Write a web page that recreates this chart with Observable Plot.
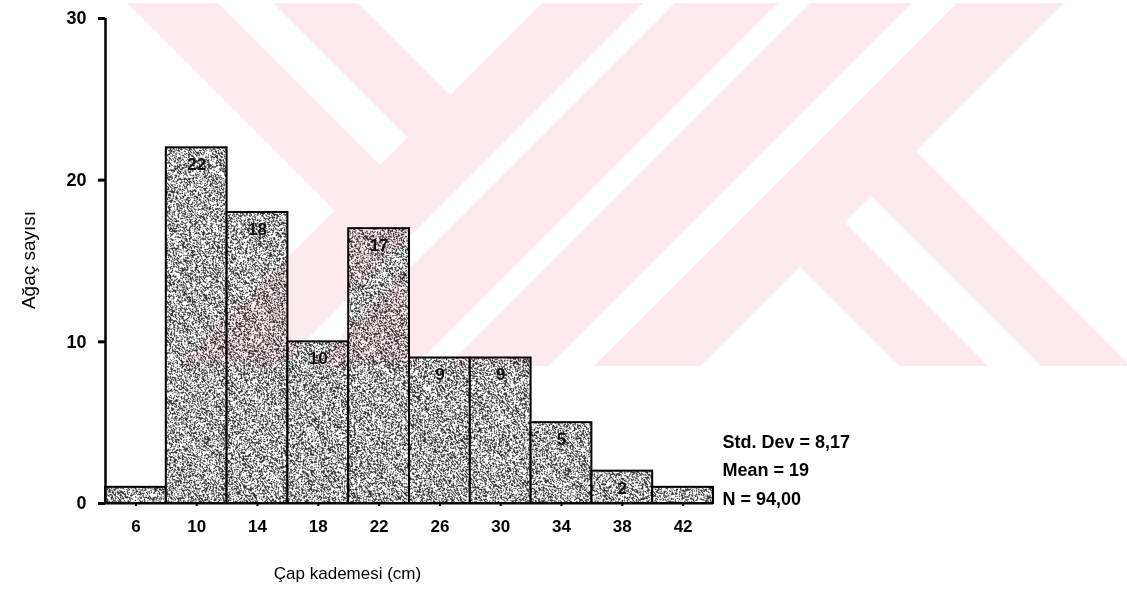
<!DOCTYPE html>
<html lang="tr">
<head>
<meta charset="utf-8">
<title>Çap kademesi dağılımı</title>
<script src="https://cdn.jsdelivr.net/npm/d3@7"></script>
<script src="https://cdn.jsdelivr.net/npm/@observablehq/plot@0.6"></script>
<style>
  html, body { margin: 0; padding: 0; background: #fff; }
  #chart { position: relative; width: 1127px; height: 598px; overflow: hidden; }
  #chart svg.plot { display: block; }
  #stamp { position: absolute; left: 0; top: 0; mix-blend-mode: multiply; pointer-events: none; }
</style>
</head>
<body>
<div id="chart"></div>
<script>
// Diameter classes (cm, class midpoints) and tree counts per class
const classMid = [6, 10, 14, 18, 22, 26, 30, 34, 38, 42];
const treeCount = [1, 22, 18, 10, 17, 9, 9, 5, 2, 1];
const classWidth = 4;
const countTicks = [0, 10, 20, 30];
const statLines = ["Std. Dev = 8,17", "Mean = 19", "N = 94,00"];
const xTitle = "Çap kademesi (cm)";
const yTitle = "Ağaç sayısı";

const bins = classMid.map((m, i) => ({
  x1: m - classWidth / 2,
  x2: m + classWidth / 2,
  mid: m,
  n: treeCount[i]
}));

const font = "'Liberation Sans', Arial, Helvetica, sans-serif";
const xMin = classMid[0] - classWidth / 2;
const xMax = classMid[classMid.length - 1] + classWidth / 2;

const chart = Plot.plot({
  width: 1127,
  height: 598,
  marginLeft: 105,
  marginRight: 414,
  marginTop: 18,
  marginBottom: 95,
  x: {domain: [xMin, xMax]},
  y: {domain: [countTicks[0], countTicks[countTicks.length - 1]]},
  style: {fontFamily: font, background: "transparent", color: "#000", overflow: "visible"},
  marks: [
    // histogram bars with a stippled fill
    Plot.rectY(bins, {x1: "x1", x2: "x2", y: "n", fill: "url(#speckle)", stroke: "#000", strokeWidth: 2}),
    // count labels inside the bars
    Plot.text(bins.filter(d => d.n > 1), {
      x: "mid", y: "n", text: d => String(d.n), dy: 17,
      fontSize: 17, fontWeight: "bold", fill: "#111"
    }),
    // axis lines
    Plot.ruleX([xMin], {y1: countTicks[0], y2: countTicks[countTicks.length - 1], strokeWidth: 2.5}),
    Plot.ruleY([countTicks[0]], {strokeWidth: 2}),
    Plot.axisY({
      ticks: countTicks, tickSize: 7, tickPadding: 12, strokeWidth: 3,
      fontSize: 18, fontWeight: "bold", label: null, tickFormat: d => String(d)
    }),
    Plot.axisX({
      ticks: classMid, tickSize: 3, tickPadding: 13, strokeWidth: 2,
      fontSize: 17, fontWeight: "bold", label: null, tickFormat: d => String(d)
    }),
    // axis titles
    Plot.text([xTitle], {frameAnchor: "bottom", dx: -62, dy: 75, fontSize: 17, fill: "#000"}),
    Plot.text([yTitle], {frameAnchor: "left", textAnchor: "middle", rotate: -90, dx: -77, dy: -1, fontSize: 19, fill: "#000"}),
    // summary statistics
    Plot.text([statLines.join("\n")], {
      frameAnchor: "bottom-right", textAnchor: "start", lineAnchor: "top",
      dx: 9, dy: -76, lineHeight: 1.58, fontSize: 18, fontWeight: "bold", fill: "#000"
    })
  ]
});
chart.classList.add("plot");

// stippled texture used by the bars
const defs = d3.select(chart).insert("defs", ":first-child");
const grain = defs.append("filter")
  .attr("id", "grain").attr("x", 0).attr("y", 0).attr("width", "100%").attr("height", "100%")
  .attr("color-interpolation-filters", "sRGB");
grain.append("feTurbulence")
  .attr("type", "fractalNoise").attr("baseFrequency", "1.05 0.5")
  .attr("numOctaves", 2).attr("seed", 11).attr("stitchTiles", "stitch");
grain.append("feColorMatrix").attr("type", "matrix")
  .attr("values", "1 0 0 0 0  1 0 0 0 0  1 0 0 0 0  0 0 0 0 1");
const lift = grain.append("feComponentTransfer");
["feFuncR", "feFuncG", "feFuncB"].forEach(f => lift.append(f).attr("type", "linear").attr("slope", 1.6).attr("intercept", -0.27));
const step = grain.append("feComponentTransfer");
["feFuncR", "feFuncG", "feFuncB"].forEach(f =>
  step.append(f).attr("type", "discrete").attr("tableValues", "0.22 0.22 0.22 0.22 0.22 1 1 1 1 1"));
const pat = defs.append("pattern")
  .attr("id", "speckle").attr("patternUnits", "userSpaceOnUse")
  .attr("width", 256).attr("height", 256).attr("patternTransform", "rotate(-40)");
pat.append("rect").attr("width", 256).attr("height", 256).attr("fill", "#fff").attr("filter", "url(#grain)");

const host = document.getElementById("chart");
host.appendChild(chart);

// faint diagonal-band emblem printed across the upper part of the page
(function drawStamp() {
  const W = 1127, H = 598, top = 3, bottom = 366;
  // each band: ranges of u = x + y and v = x - y
  const bands = [
    {u: [-1e4, 545], v: [124, 215]},
    {u: [-1e4, 545], v: [270, 355]},
    {u: [545, 646], v: [-1e4, 1e4]},
    {u: [678, 781], v: [-1e4, 1e4]},
    {u: [813, 915], v: [-1e4, 1e4]},
    {u: [960, 1067], v: [-1e4, 1e4]},
    {u: [1067, 1e4], v: [533, 622]},
    {u: [1067, 1e4], v: [675, 765]}
  ];
  // keep the part of poly where a*x + b*y <= c
  function clip(poly, a, b, c) {
    const out = [];
    for (let i = 0; i < poly.length; i++) {
      const p = poly[i], q = poly[(i + 1) % poly.length];
      const fp = a * p[0] + b * p[1] - c, fq = a * q[0] + b * q[1] - c;
      if (fp <= 0) out.push(p);
      if ((fp < 0 && fq > 0) || (fp > 0 && fq < 0)) {
        const t = fp / (fp - fq);
        out.push([p[0] + t * (q[0] - p[0]), p[1] + t * (q[1] - p[1])]);
      }
    }
    return out;
  }
  const svg = d3.select(host).append("svg")
    .attr("id", "stamp").attr("width", W).attr("height", H);
  for (const b of bands) {
    let poly = [[0, top], [W, top], [W, bottom], [0, bottom]];
    poly = clip(poly, -1, -1, -b.u[0]);
    poly = clip(poly, 1, 1, b.u[1]);
    poly = clip(poly, -1, 1, -b.v[0]);
    poly = clip(poly, 1, -1, b.v[1]);
    if (poly.length > 2) {
      svg.append("polygon")
        .attr("points", poly.map(p => p.join(",")).join(" "))
        .attr("fill", "#fdeaee");
    }
  }
})();
</script>
</body>
</html>
